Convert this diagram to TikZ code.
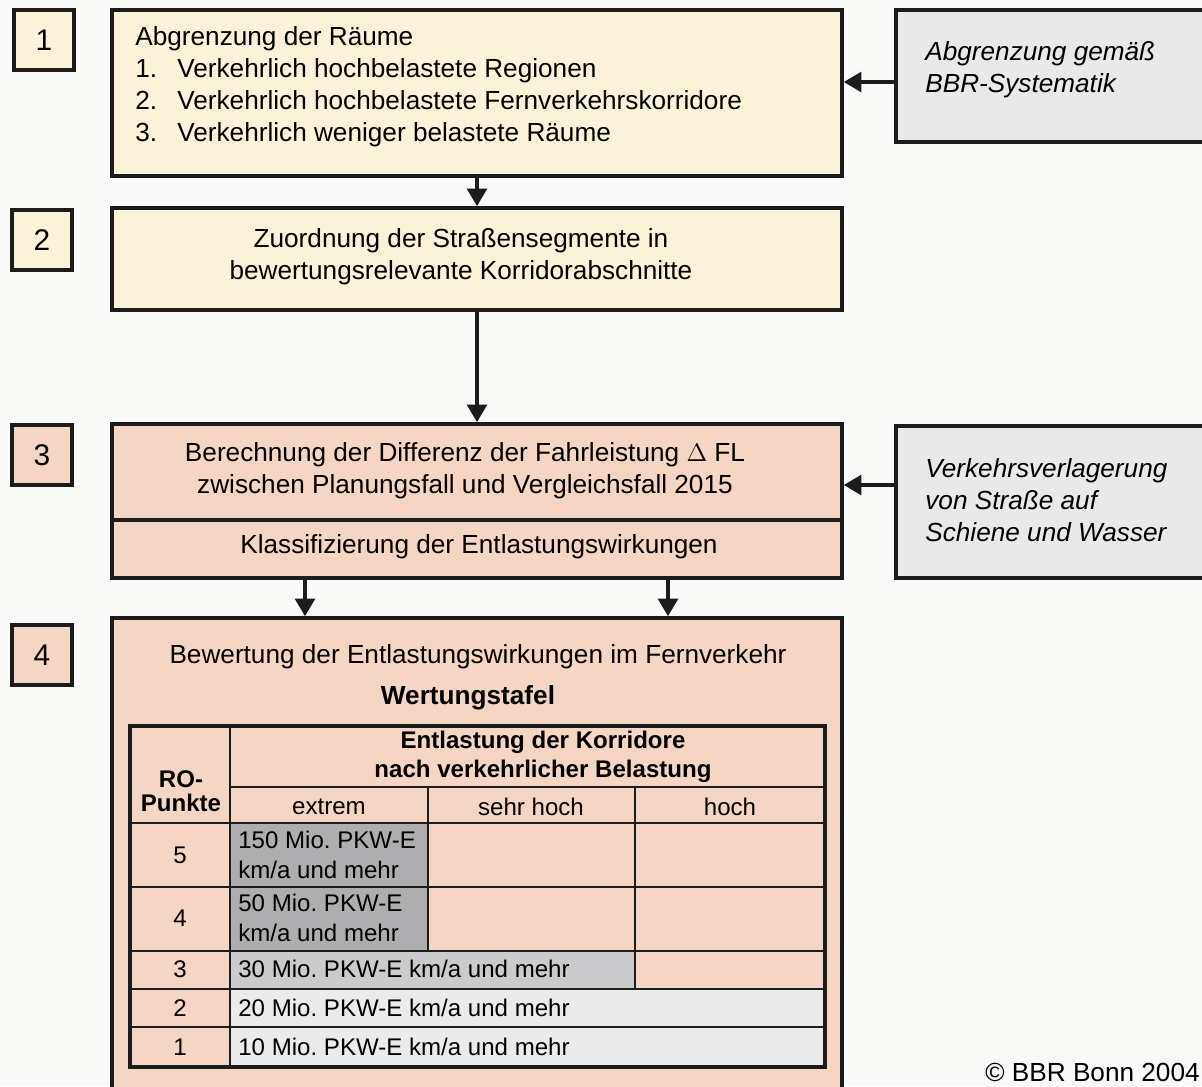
\documentclass[tikz,border=0pt]{standalone}
\usepackage{fontspec}
\setmainfont{Liberation Sans}
\usepackage{tikz}
\usetikzlibrary{positioning,arrows.meta,calc}
\usepackage{xcolor}
\frenchspacing

\definecolor{bgpaper}{HTML}{FAFAF8}
\definecolor{paleyellow}{HTML}{FAF3DA}
\definecolor{salmon}{HTML}{F5D5C4}
\definecolor{sidegrey}{HTML}{E9E9E9}
\definecolor{darkcell}{HTML}{AEAEB0}
\definecolor{midcell}{HTML}{CBCBCD}
\definecolor{lightcell}{HTML}{EBEBEB}
\definecolor{linecol}{HTML}{1C1C1C}

\newcommand{\bodyfont}{\fontsize{14.9}{18.2}\selectfont}
\newcommand{\tabfont}{\fontsize{13.7}{16.8}\selectfont}
\newcommand{\listnr}[1]{\makebox[0.84cm][l]{#1}}

\begin{document}
\begin{tikzpicture}[x=0.02cm, y=-0.02cm, >={Triangle[length=10pt,width=11pt]}]
\tikzset{
  flowbox/.style={draw=linecol, line width=2pt, minimum width=14.6cm, inner sep=0pt},
  sidebox/.style={draw=linecol, line width=2pt, fill=sidegrey, minimum width=6.28cm, inner sep=0pt},
  nrbox/.style={draw=linecol, line width=2.1pt, fill=paleyellow, minimum size=1.2cm, inner sep=0pt, font=\fontsize{17}{20}\selectfont},
  flow/.style={->, line width=2.4pt, draw=linecol},
  gridline/.style={line width=1.3pt, draw=linecol},
  tableframe/.style={line width=2.4pt, draw=linecol},
}

% Page size and background
\useasboundingbox (0,0) rectangle (1202,1086);
\fill[bgpaper] (0,0) rectangle (1202,1086);

% Define horizontal positions
\def\boxmid{477}
\def\sidemid{1053}
\def\leftdrop{305}
\def\rightdrop{668}

% Step numbers
\node[nrbox] (nr1) at (44,40) {1};
\node[nrbox] (nr2) at (42,240) {2};
\node[nrbox, fill=salmon] (nr3) at (42,455) {3};
\node[nrbox, fill=salmon] (nr4) at (42,655) {4};

% Step 1
\node[flowbox, fill=paleyellow, minimum height=3.32cm] (raeume) at (\boxmid,93) {};
\node[anchor=west, align=left, font=\bodyfont, inner sep=0pt] (raeumetext) at (135,87)
  {Abgrenzung der Räume\\
   \listnr{1.}Verkehrlich hochbelastete Regionen\\
   \listnr{2.}Verkehrlich hochbelastete Fernverkehrskorridore\\
   \listnr{3.}Verkehrlich weniger belastete Räume};
\node[sidebox, minimum height=2.64cm] (bbr) at (\sidemid,76) {};
\node[anchor=west, align=left, font=\bodyfont\itshape, inner sep=0pt] (bbrtext) at (925,70)
  {Abgrenzung gemäß\\BBR-Systematik};

% Step 2
\node[flowbox, fill=paleyellow, minimum height=2.04cm] (zuordnung) at (\boxmid,259) {};
\node[align=center, font=\bodyfont, inner sep=0pt] (zuordnungtext) at (461,257)
  {Zuordnung der Straßensegmente in\\bewertungsrelevante Korridorabschnitte};

% Step 3
\node[flowbox, fill=salmon, minimum height=1.92cm] (differenz) at (\boxmid,472) {};
\node[align=center, font=\bodyfont, inner sep=0pt] (differenztext) at (465,471)
  {Berechnung der Differenz der Fahrleistung $\Delta$ FL\\zwischen Planungsfall und Vergleichsfall 2015};
\node[flowbox, fill=salmon, minimum height=1.16cm] (klassen) at (\boxmid,549) {};
\node[font=\bodyfont, inner sep=0pt] (klassentext) at (479,547)
  {Klassifizierung der Entlastungswirkungen};
\node[sidebox, minimum height=3.04cm] (verlagerung) at (\sidemid,502) {};
\node[anchor=west, align=left, font=\bodyfont\itshape, inner sep=0pt] (verlagerungtext) at (925,500)
  {Verkehrsverlagerung\\von Straße auf\\Schiene und Wasser};

% Step 4
\node[flowbox, fill=salmon, minimum height=9.44cm] (bewertung) at (\boxmid,854) {};
\node[font=\bodyfont, inner sep=0pt] (bewertungtext) at (478,657)
  {Bewertung der Entlastungswirkungen im Fernverkehr};
\node[font=\bodyfont\bfseries, inner sep=0pt] (tafel) at (468,698) {Wertungstafel};

% Wertungstafel: cell fills
\fill[darkcell] (230,823) rectangle (428,951);
\fill[midcell] (230,951) rectangle (635,989);
\fill[lightcell] (230,989) rectangle (825,1067);

% Wertungstafel: grid
\draw[gridline] (230,787) -- (825,787);
\foreach \yrow in {823,887,951,989,1027}
  \draw[gridline] (130,\yrow) -- (825,\yrow);
\draw[gridline] (230,726) -- (230,1067);
\draw[gridline] (428,787) -- (428,951);
\draw[gridline] (635,787) -- (635,989);
\draw[tableframe] (130,726) rectangle (825,1067);

% Wertungstafel: head
\node[align=center, font=\tabfont\bfseries, inner sep=0pt] (ropunkte) at (181,791)
  {RO-\\[-3pt]Punkte};
\node[align=center, font=\tabfont\bfseries, inner sep=0pt] (korridore) at (543,757)
  {Entlastung der Korridore\\nach verkehrlicher Belastung};
\foreach \col/\xcol/\stufe in {1/329/extrem, 2/531/sehr hoch, 3/730/hoch}
  \node[font=\tabfont, inner sep=0pt] (stufe\col) at (\xcol,807) {\stufe};

% Wertungstafel: rows
\foreach \pts/\yrow in {5/855, 4/918, 3/969, 2/1008, 1/1047}
  \node[font=\tabfont, inner sep=0pt] (ro\pts) at (180,\yrow) {\pts};
\foreach \pts/\yrow/\wert in {5/855/{150 Mio. PKW-E\\km/a und mehr},
                              4/918/{50 Mio. PKW-E\\km/a und mehr},
                              3/969/{30 Mio. PKW-E km/a und mehr},
                              2/1008/{20 Mio. PKW-E km/a und mehr},
                              1/1047/{10 Mio. PKW-E km/a und mehr}}
  \node[anchor=west, align=left, font=\tabfont, inner sep=0pt] (wert\pts) at (238,\yrow) {\wert};

% Arrows
\coordinate (inbbr) at (870,82);
\coordinate (inverl) at (870,485);
\coordinate (outl) at (\leftdrop,600);
\coordinate (outr) at (\rightdrop,600);
\draw[flow] (raeume.south) -- (zuordnung.north);
\draw[flow] (zuordnung.south) -- (differenz.north);
\draw[flow] (bbr.west |- inbbr) -- (raeume.east |- inbbr);
\draw[flow] (verlagerung.west |- inverl) -- (differenz.east |- inverl);
\draw[flow] (klassen.south -| outl) -- (bewertung.north -| outl);
\draw[flow] (klassen.south -| outr) -- (bewertung.north -| outr);

% Source
\node[anchor=base east, font=\bodyfont, inner sep=0pt] (quelle) at (1200,1081) {© BBR Bonn 2004};

\end{tikzpicture}
\end{document}
